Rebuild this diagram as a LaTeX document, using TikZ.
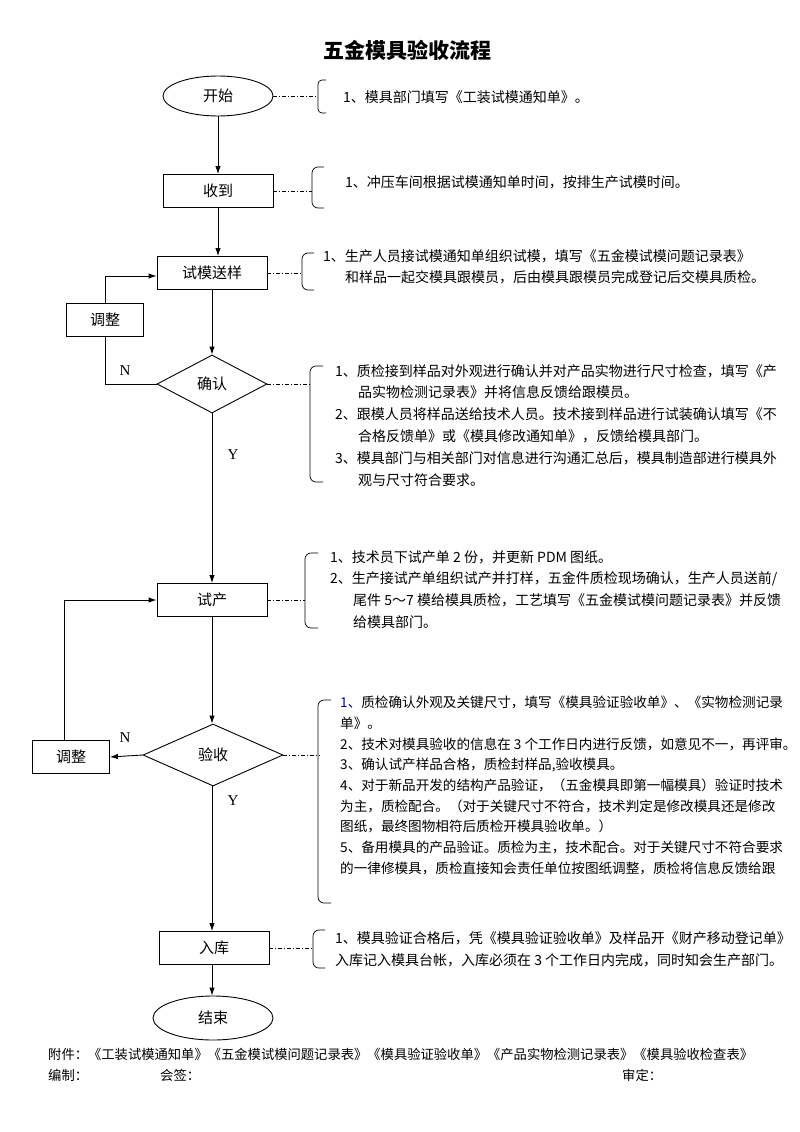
\documentclass[tikz,border=0pt]{standalone}
\usepackage{fontspec}
\setmainfont{Liberation Serif}
\newfontfamily\cjk{Noto Sans CJK SC}
\usetikzlibrary{shapes.geometric,arrows.meta}
\begin{document}
\begin{tikzpicture}[x=1pt,y=-1pt,
  every node/.style={font=\cjk\fontsize{14}{21}\selectfont},
  ln/.style={line width=0.9pt},
  arr/.style={ln,-{Latex[length=8pt,width=5.5pt]}},
  dd/.style={line width=0.6pt,dash pattern=on 4pt off 2pt on 1pt off 2pt},
  brk/.style={line width=0.7pt,rounded corners=6pt},
  oval/.style={ellipse,draw,ln,minimum width=110pt,minimum height=40pt,inner sep=0pt},
  stepbox/.style={rectangle,draw,ln,minimum width=110pt,minimum height=33pt,inner sep=0pt},
  adjbox/.style={rectangle,draw,ln,minimum width=77pt,minimum height=33pt,inner sep=0pt},
  dia/.style={diamond,draw,ln,inner sep=0pt},
  para/.style={anchor=north west,inner sep=0pt,align=left},
  lbl/.style={font=\rmfamily\fontsize{15}{15}\selectfont,inner sep=0pt}]
\useasboundingbox (0,0) rectangle (800,1132);
% title
\node[font=\cjk\bfseries\fontsize{21}{21}\selectfont] (title) at (407,50) {五金模具验收流程};
% flow nodes
\node[oval,font=\cjk\fontsize{15}{15}\selectfont] (start) at (218,96) {开始};
\node[stepbox,font=\cjk\fontsize{15}{15}\selectfont] (recv) at (218,191) {收到};
\node[stepbox,font=\cjk\fontsize{15}{15}\selectfont] (trial) at (212,273) {试模送样};
\node[adjbox,font=\cjk\fontsize{15}{15}\selectfont] (adja) at (105,320) {调整};
\node[dia,minimum width=110pt,minimum height=58pt,font=\cjk\fontsize{15}{15}\selectfont] (conf) at (212,384) {确认};
\node[stepbox,font=\cjk\fontsize{15}{15}\selectfont] (prod) at (212,600) {试产};
\node[dia,minimum width=140pt,minimum height=62pt,font=\cjk\fontsize{15}{15}\selectfont] (acc) at (213,755) {验收};
\node[adjbox,font=\cjk\fontsize{15}{15}\selectfont] (adjb) at (71,757) {调整};
\node[stepbox,font=\cjk\fontsize{15}{15}\selectfont] (store) at (214,948) {入库};
\node[oval,minimum width=120pt,minimum height=44pt,font=\cjk\fontsize{15}{15}\selectfont] (stop) at (213,1018) {结束};
% labels
\node[lbl] (n1) at (125,371) {N};
\node[lbl] (y1) at (233,455) {Y};
\node[lbl] (n2) at (125,738) {N};
\node[lbl] (y2) at (233,801) {Y};
% connectors
\draw[arr] (start) -- (recv);
\draw[arr] (recv.south) -- (recv.south |- trial.north);
\draw[arr] (adja.north) |- ([yshift=-3pt]trial.west);
\draw[ln] (adja.south) |- (conf.west);
\draw[arr] (trial) -- (conf);
\draw[arr] (conf) -- (prod);
\draw[arr] (prod) -- (prod |- acc.north);
\draw[arr] (acc.west) -- (adjb.east);
\draw[arr] ([xshift=-7pt]adjb.north) |- (prod.west);
\draw[arr] (acc.south -| prod) -- (prod |- store.north);
\draw[arr] (prod |- store.south) -- (prod |- stop.north);
% brackets and annotation connectors
\coordinate (b1) at (318,96);
\coordinate (b2) at (312,191);
\coordinate (b3) at (302,273);
\coordinate (b4) at (310,384);
\coordinate (b5) at (305,600);
\coordinate (b6) at (320,755);
\coordinate (b7) at (313,948);
\draw[dd] (start.east) -- (b1);
\draw[dd] (recv.east) -- (b2);
\draw[dd] (trial.east) -- (b3);
\draw[dd] (conf.east) -- (b4);
\draw[dd] (prod.east) -- (b5);
\draw[dd] (acc.east) -- (b6);
\draw[dd] (store.east) -- (b7);
\draw[brk,rounded corners=4pt] (326,80) -- (318,80) -- (318,113) -- (326,113);
\draw[brk] (324,167) -- (312,167) -- (312,208) -- (324,208);
\draw[brk] (314,253) -- (302,253) -- (302,290) -- (314,290);
\draw[brk] (323,366) -- (310,366) -- (310,482) -- (323,482);
\draw[brk] (318,553) -- (305,553) -- (305,628) -- (318,628);
\draw[brk] (331,700) -- (318,700) -- (318,903) -- (331,903);
\draw[brk] (325,930) -- (313,930) -- (313,968) -- (325,968);
% annotation texts
\node[para] (t1) at (343,90) {1、模具部门填写《工装试模通知单》。};
\node[para] (t2) at (345,175) {1、冲压车间根据试模通知单时间，按排生产试模时间。};
\node[para] (t3) at (323,249) {1、生产人员接试模通知单组织试模，填写《五金模试模问题记录表》\\
\hspace*{22pt}和样品一起交模具跟模员，后由模具跟模员完成登记后交模具质检。};
\node[para,font=\cjk\fontsize{14}{21.8}\selectfont] (t4) at (335,364) {1、质检接到样品对外观进行确认并对产品实物进行尺寸检查，填写《产\\
\hspace*{23pt}品实物检测记录表》并将信息反馈给跟模员。\\
2、跟模人员将样品送给技术人员。技术接到样品进行试装确认填写《不\\
\hspace*{23pt}合格反馈单》或《模具修改通知单》，反馈给模具部门。\\
3、模具部门与相关部门对信息进行沟通汇总后，模具制造部进行模具外\\
\hspace*{23pt}观与尺寸符合要求。};
\node[para,font=\cjk\fontsize{14}{21.7}\selectfont] (t5) at (330,550) {1、技术员下试产单 2 份，并更新 PDM 图纸。\\
2、生产接试产单组织试产并打样，五金件质检现场确认，生产人员送前/\\
\hspace*{23pt}尾件 5～7 模给模具质检，工艺填写《五金模试模问题记录表》并反馈\\
\hspace*{23pt}给模具部门。};
\node[para,font=\cjk\fontsize{13.6}{20.7}\selectfont] (t6) at (340,696) {{\color{blue!60!black}1、}质检确认外观及关键尺寸，填写《模具验证验收单》、《实物检测记录\\
单》。\\
2、技术对模具验收的信息在 3 个工作日内进行反馈，如意见不一，再评审。\\
3、确认试产样品合格，质检封样品,验收模具。\\
4、对于新品开发的结构产品验证，（五金模具即第一幅模具）验证时技术\\
为主，质检配合。（对于关键尺寸不符合，技术判定是修改模具还是修改\\
图纸，最终图物相符后质检开模具验收单。）\\
5、备用模具的产品验证。质检为主，技术配合。对于关键尺寸不符合要求\\
的一律修模具，质检直接知会责任单位按图纸调整，质检将信息反馈给跟};
\node[para,font=\cjk\fontsize{14}{22}\selectfont] (t7) at (335,931) {1、模具验证合格后，凭《模具验证验收单》及样品开《财产移动登记单》\\
入库记入模具台帐，入库必须在 3 个工作日内完成，同时知会生产部门。};
% footer
\node[para,font=\cjk\fontsize{13.3}{20}\selectfont] (f1) at (48,1048) {附件：《工装试模通知单》《五金模试模问题记录表》《模具验证验收单》《产品实物检测记录表》《模具验收检查表》};
\node[para,font=\cjk\fontsize{13.3}{20}\selectfont] (f2) at (48,1069) {编制：};
\node[para,font=\cjk\fontsize{13.3}{20}\selectfont] (f3) at (160,1069) {会签：};
\node[para,font=\cjk\fontsize{13.3}{20}\selectfont] (f4) at (622,1069) {审定：};
\end{tikzpicture}
\end{document}
